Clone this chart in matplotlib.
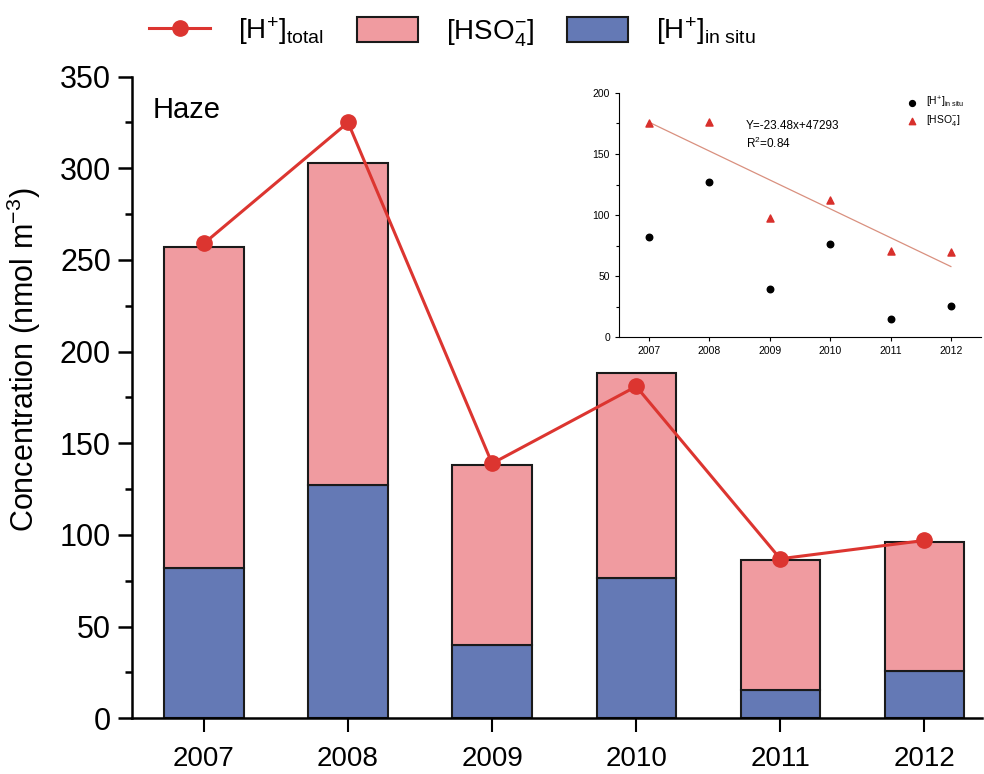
import numpy as np
import matplotlib
matplotlib.use("Agg")
import matplotlib.pyplot as plt
from matplotlib import font_manager
from matplotlib.lines import Line2D
from matplotlib.patches import Patch
from matplotlib.ticker import MultipleLocator

# --- данные ---
years = ["2007", "2008", "2009", "2010", "2011", "2012"]
h_insitu = [82, 127, 40, 76.5, 15.5, 26]
hso4 = [175, 176, 98, 112, 71, 70]
h_total = [259, 325, 139, 181, 87, 97]

# шрифты: узкий для подписей, если есть
names = {f.name for f in font_manager.fontManager.ttflist}
narrow = "Liberation Sans Narrow" if "Liberation Sans Narrow" in names else "Liberation Sans"
plt.rcParams["font.family"] = ["Liberation Sans", "DejaVu Sans"]
plt.rcParams["mathtext.fontset"] = "custom"
plt.rcParams["mathtext.rm"] = narrow
plt.rcParams["mathtext.it"] = narrow
plt.rcParams["mathtext.default"] = "regular"

pink = "#f09ba0"
blue = "#6479b5"
red = "#dc3530"

fig = plt.figure(figsize=(9.84, 7.74), dpi=100)
ax = fig.add_axes([0.134, 0.072, 0.864, 0.829])

x = np.arange(len(years))
w = 0.55
ax.bar(x, h_insitu, w, color=blue, edgecolor="#1a1a1a", linewidth=1.5, zorder=2)
ax.bar(x, hso4, w, bottom=h_insitu, color=pink, edgecolor="#1a1a1a", linewidth=1.5, zorder=2)
ax.plot(x, h_total, color=red, lw=2.2, marker="o", ms=11, zorder=3)

ax.set_xlim(-0.5, 5.4)
ax.set_ylim(0, 350)
ax.yaxis.set_major_locator(MultipleLocator(50))
ax.yaxis.set_minor_locator(MultipleLocator(25))
ax.set_xticks(x)
ax.set_xticklabels(years, fontfamily=narrow, fontsize=20)
for s in ["top", "right"]:
    ax.spines[s].set_visible(False)
for s in ["left", "bottom"]:
    ax.spines[s].set_linewidth(1.8)
ax.tick_params(axis="y", which="major", length=10, width=1.8, labelsize=22, pad=5)
ax.tick_params(axis="y", which="minor", length=5, width=1.8)
ax.tick_params(axis="x", length=10, width=1.5, pad=10)
ax.set_ylabel("Concentration (nmol m$^{-3}$)", fontfamily=narrow, fontsize=22)
ax.yaxis.set_label_coords(-0.105, 0.558)
ax.text(0.025, 0.97, "Haze", transform=ax.transAxes, fontsize=21, va="top")

# легенда сверху
handles = [
    Line2D([], [], color=red, lw=2.2, marker="o", ms=11),
    Patch(facecolor=pink, edgecolor="#1a1a1a", linewidth=1.5),
    Patch(facecolor=blue, edgecolor="#1a1a1a", linewidth=1.5),
]
labels = ["[H$^{+}$]$_{total}$", "[HSO$_{4}^{-}$]", "[H$^{+}$]$_{in\\ situ}$"]
fig.legend(handles, labels, loc="upper left", bbox_to_anchor=(0.126, 1.012), ncol=3,
           frameon=False, prop={"family": narrow, "size": 20},
           handlelength=2.2, handleheight=1.0, handletextpad=1.0, columnspacing=1.2)

# вставка: регрессия
ins = fig.add_axes([0.629, 0.564, 0.368, 0.316])
yr = np.array([int(y) for y in years])
ins.scatter(yr, h_insitu, s=22, color="black", zorder=3, label="[H$^{+}$]$_{in\\ situ}$")
ins.scatter(yr, hso4, s=26, marker="^", color="#d8302c", zorder=3, label="[HSO$_{4}^{-}$]")
k, b = np.polyfit(yr, hso4, 1)
ins.plot(yr, k * yr + b, color="#d9907f", lw=0.9, zorder=2)
ins.set_xlim(2006.5, 2012.5)
ins.set_ylim(0, 200)
ins.yaxis.set_major_locator(MultipleLocator(50))
ins.yaxis.set_minor_locator(MultipleLocator(25))
ins.set_xticks(yr)
for s in ["top", "right"]:
    ins.spines[s].set_visible(False)
ins.tick_params(labelsize=7.5, length=3, width=0.8)
ins.tick_params(which="minor", length=2, width=0.8)
ins.text(0.35, 0.89, "Y=-23.48x+47293\nR$^{2}$=0.84", transform=ins.transAxes,
         fontsize=8.5, va="top", linespacing=1.3)
ins.legend(loc="upper right", bbox_to_anchor=(0.98, 1.03), frameon=False, fontsize=7.5,
           handletextpad=0.3, labelspacing=0.3, markerscale=0.9)

fig.savefig("out.png", dpi=100)
